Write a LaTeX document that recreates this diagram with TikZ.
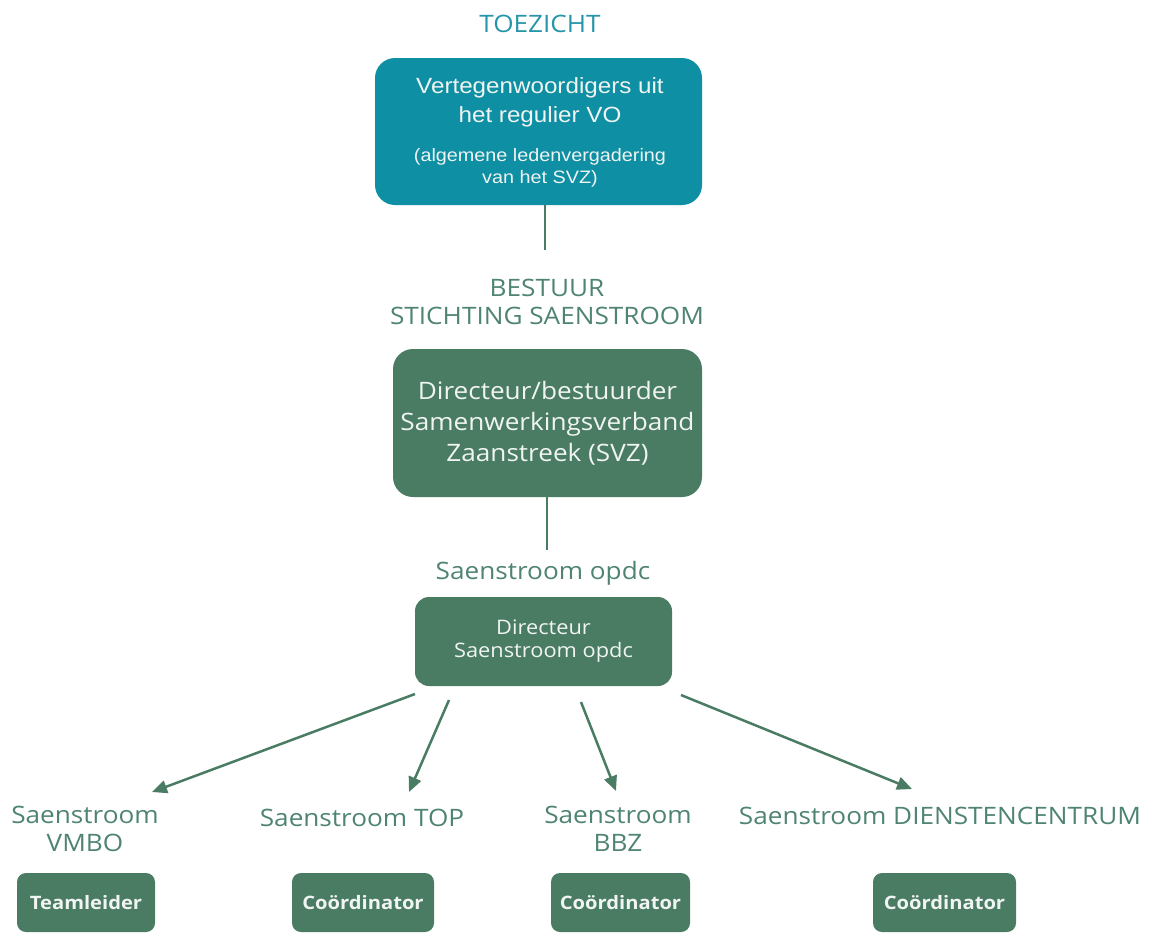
\documentclass[tikz,border=0pt]{standalone}
\usepackage{fontspec}
\setmainfont[FakeStretch=1.09]{Open Sans}
\newfontfamily\arialf[FakeStretch=1.1]{Liberation Sans}
\usetikzlibrary{arrows.meta}
\definecolor{teal1}{HTML}{0E8FA3}
\definecolor{tealtxt}{HTML}{2596A9}
\definecolor{green1}{HTML}{4A7C64}
\definecolor{greentxt}{HTML}{4E8470}
\definecolor{boxtxt}{HTML}{F0F4F2}
\tikzset{
  tealbox/.style={fill=teal1, rounded corners=20pt, align=center, text=boxtxt, inner sep=0pt},
  greenbox/.style={fill=green1, rounded corners=20pt, align=center, text=boxtxt, inner sep=0pt},
  smallbox/.style={fill=green1, rounded corners=9pt, align=center, text=boxtxt, inner sep=0pt, minimum height=59pt, font=\fontsize{18.5}{22}\selectfont\bfseries},
  label/.style={text=greentxt, align=center, inner sep=0pt, font=\fontsize{24}{28}\selectfont},
  conn/.style={draw=green1, line width=2.5pt},
  arr/.style={conn, -{Triangle[length=15pt,width=13pt]}}
}
\begin{document}
\begin{tikzpicture}[x=1pt,y=-1pt]
\useasboundingbox (0,0) rectangle (1150,932);
% top
\node[text=tealtxt, font=\fontsize{24}{28}\selectfont] (toez) at (540,24) {TOEZICHT};
\node[tealbox, minimum width=327pt, minimum height=147pt] (top) at (538.5,131.5) {};
\node[text=boxtxt, align=center, inner sep=0pt, font=\arialf\fontsize{22}{29}\selectfont] (toptxt) at (540,102) {Vertegenwoordigers uit\\het regulier VO};
\node[text=boxtxt, align=center, inner sep=0pt, font=\arialf\fontsize{18}{22}\selectfont] (topsmall) at (540,168) {(algemene ledenvergadering\\van het SVZ)};
\coordinate (c1) at (545,250);
\draw[conn] (top.south -| c1) -- (c1);
% bestuur
\node[label] (best) at (547,302) {BESTUUR\\STICHTING SAENSTROOM};
\node[greenbox, minimum width=309pt, minimum height=148pt, font=\fontsize{24}{31}\selectfont] (dir) at (547.5,423) {Directeur/bestuurder\\Samenwerkingsverband\\Zaanstreek (SVZ)};
\coordinate (c2) at (547,550);
\draw[conn] (dir.south -| c2) -- (c2);
% opdc
\node[label] (opdc) at (543,573) {Saenstroom opdc};
\node[greenbox, rounded corners=14pt, minimum width=257pt, minimum height=89pt, font=\fontsize{20}{23}\selectfont] (odir) at (543.5,641.5) {Directeur\\Saenstroom opdc};
% arrows
\coordinate (s1) at (415,694); \coordinate (e1) at (152,792);
\coordinate (s2) at (449,700); \coordinate (e2) at (409,792);
\coordinate (s3) at (581,702); \coordinate (e3) at (616,791);
\coordinate (s4) at (681,695); \coordinate (e4) at (912,789);
\draw[arr] (s1) -- (e1);
\draw[arr] (s2) -- (e2);
\draw[arr] (s3) -- (e3);
\draw[arr] (s4) -- (e4);
% bottom labels
\node[label] (vmbo) at (85,829) {Saenstroom\\VMBO};
\node[label] (topl) at (362,818) {Saenstroom TOP};
\node[label] (bbz) at (618,829) {Saenstroom\\BBZ};
\node[label] (dc) at (940,816) {Saenstroom DIENSTENCENTRUM};
% bottom boxes
\node[smallbox, minimum width=138pt] (b1) at (86,902.5) {Teamleider};
\node[smallbox, minimum width=142pt] (b2) at (363,902.5) {Coördinator};
\node[smallbox, minimum width=139pt] (b3) at (620.5,902.5) {Coördinator};
\node[smallbox, minimum width=143pt] (b4) at (944.5,902.5) {Coördinator};
\end{tikzpicture}
\end{document}
